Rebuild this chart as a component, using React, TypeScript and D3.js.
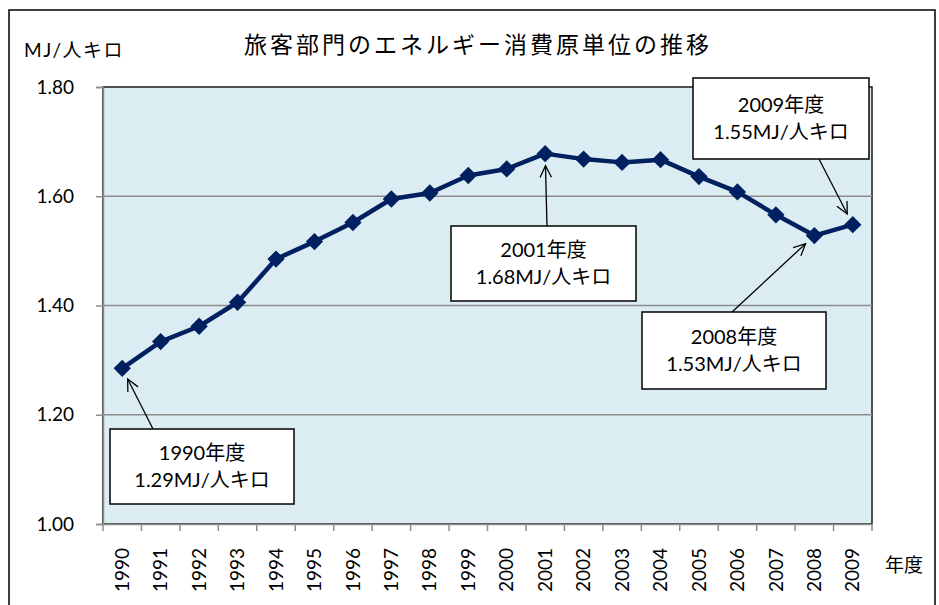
import React from "react";
import * as d3 from "d3";

const years = [
  1990, 1991, 1992, 1993, 1994, 1995, 1996, 1997, 1998, 1999,
  2000, 2001, 2002, 2003, 2004, 2005, 2006, 2007, 2008, 2009,
];
const intensity = [
  1.285, 1.334, 1.362, 1.406, 1.485, 1.517, 1.552, 1.595, 1.606, 1.638,
  1.65, 1.678, 1.668, 1.662, 1.667, 1.636, 1.608, 1.566, 1.528, 1.548,
];
const yTicks = [1.0, 1.2, 1.4, 1.6, 1.8];

const calloutYears = [1990, 2001, 2008, 2009];
const calloutValues = ["1.29MJ/人キロ", "1.68MJ/人キロ", "1.53MJ/人キロ", "1.55MJ/人キロ"];

// box x, y, w, h and where the arrow leaves the box
const calloutBoxes = [
  { x: 110, y: 429, w: 184, h: 75, ax: 153, ay: 429 },
  { x: 451, y: 226, w: 185, h: 75, ax: 547, ay: 226 },
  { x: 642, y: 312, w: 184, h: 77, ax: 732, ay: 312 },
  { x: 693, y: 78, w: 176, h: 81, ax: 819, ay: 159 },
];

const W = 939;
const H = 605;
const plot = { left: 103, right: 872, top: 87, bottom: 524 };
const FONT = "Lato, 'Noto Sans CJK JP', sans-serif";

export default function App() {
  const gRef = React.useRef<SVGGElement>(null);

  const x = d3
    .scaleBand<number>()
    .domain(years)
    .range([plot.left, plot.right])
    .padding(0);
  const y = d3.scaleLinear().domain([1.0, 1.8]).range([plot.bottom, plot.top]);
  const cx = (yr: number) => (x(yr) as number) + x.bandwidth() / 2;

  React.useEffect(() => {
    const g = d3.select(gRef.current);
    g.selectAll("*").remove();

    // y axis
    const yAxis = d3
      .axisLeft(y)
      .tickValues(yTicks)
      .tickSize(7)
      .tickPadding(22)
      .tickFormat(d3.format(".2f"));
    const ya = g
      .append("g")
      .attr("transform", `translate(${plot.left},0)`)
      .call(yAxis);
    ya.select(".domain").attr("stroke", "#8c8c8c").attr("stroke-width", 1.5);
    ya.selectAll(".tick line").attr("stroke", "#8c8c8c").attr("stroke-width", 1.5);
    ya.selectAll(".tick text")
      .attr("font-family", FONT)
      .attr("font-size", 19)
      .attr("fill", "#000");

    // x axis: ticks on category boundaries
    const xAxis = d3.axisBottom(x).tickSize(0).tickPadding(0);
    const xa = g
      .append("g")
      .attr("transform", `translate(0,${plot.bottom})`)
      .call(xAxis);
    xa.select(".domain").attr("stroke", "#8c8c8c").attr("stroke-width", 1.5);
    xa.selectAll(".tick line").remove();
    xa.selectAll(".tick text")
      .attr("font-family", FONT)
      .attr("font-size", 19)
      .attr("fill", "#000")
      .attr("text-anchor", "end")
      .attr("dy", "0.35em")
      .attr("transform", "translate(0,24) rotate(-90)")
      .attr("x", 0)
      .attr("y", 0);
    const bounds = years.map((yr) => x(yr) as number).concat([plot.right]);
    xa.selectAll(".bound")
      .data(bounds)
      .join("line")
      .attr("class", "bound")
      .attr("x1", (d) => d)
      .attr("x2", (d) => d)
      .attr("y1", 0)
      .attr("y2", 7)
      .attr("stroke", "#8c8c8c")
      .attr("stroke-width", 1.5);
  }, []);

  const linePath = d3
    .line<number>()
    .x((_, i) => cx(years[i]))
    .y((v) => y(v))(intensity) as string;

  const diamond = d3.symbol().type(d3.symbolSquare).size(150)() as string;

  return (
    <svg
      width={W}
      height={H}
      style={{ position: "absolute", left: 0, top: 0, background: "#fff" }}
    >
      <rect x={9} y={10} width={926} height={620} fill="#fff" stroke="#000" strokeWidth={1.5} />

      <text
        x={478}
        y={53}
        textAnchor="middle"
        fontFamily={FONT}
        fontSize={23}
        letterSpacing={3}
      >
        旅客部門のエネルギー消費原単位の推移
      </text>
      <text x={24} y={57} fontFamily={FONT} fontSize={19} letterSpacing={1.5}>
        MJ/人キロ
      </text>
      <text x={885} y={572} fontFamily={FONT} fontSize={19}>
        年度
      </text>

      <rect
        x={plot.left}
        y={plot.top}
        width={plot.right - plot.left}
        height={plot.bottom - plot.top}
        fill="#dbedf3"
        stroke="#1a1a1a"
        strokeWidth={1.5}
      />
      {yTicks.slice(1, -1).map((t) => (
        <line
          key={t}
          x1={plot.left}
          x2={plot.right}
          y1={y(t)}
          y2={y(t)}
          stroke="#8c8c8c"
          strokeWidth={1.5}
        />
      ))}

      <g ref={gRef} />

      <path d={linePath} fill="none" stroke="#002060" strokeWidth={4.5} strokeLinejoin="round" />
      {intensity.map((v, i) => (
        <path
          key={years[i]}
          d={diamond}
          transform={`translate(${cx(years[i])},${y(v)}) rotate(45)`}
          fill="#002060"
        />
      ))}

      {calloutYears.map((yr, k) => {
        const b = calloutBoxes[k];
        const i = years.indexOf(yr);
        const px = cx(yr);
        const py = y(intensity[i]);
        const dx = b.ax - px;
        const dy = b.ay - py;
        const len = Math.hypot(dx, dy);
        const ux = dx / len;
        const uy = dy / len;
        const gap = 12;
        const tx = px + ux * gap;
        const ty = py + uy * gap;
        const head = 13;
        const ang = (26 * Math.PI) / 180;
        const rot = (a: number) => [
          ux * Math.cos(a) - uy * Math.sin(a),
          ux * Math.sin(a) + uy * Math.cos(a),
        ];
        const [h1x, h1y] = rot(ang);
        const [h2x, h2y] = rot(-ang);
        return (
          <g key={yr}>
            <line x1={b.ax} y1={b.ay} x2={tx} y2={ty} stroke="#000" strokeWidth={1.3} />
            <path
              d={`M${tx + h1x * head},${ty + h1y * head}L${tx},${ty}L${tx + h2x * head},${ty + h2y * head}`}
              fill="none"
              stroke="#000"
              strokeWidth={1.3}
            />
            <rect x={b.x} y={b.y} width={b.w} height={b.h} fill="#fff" stroke="#000" strokeWidth={1.5} />
            <text
              x={b.x + b.w / 2}
              y={b.y + b.h / 2 - 7}
              textAnchor="middle"
              fontFamily={FONT}
              fontSize={20}
            >
              {yr}年度
            </text>
            <text
              x={b.x + b.w / 2}
              y={b.y + b.h / 2 + 20}
              textAnchor="middle"
              fontFamily={FONT}
              fontSize={20}
            >
              {calloutValues[k]}
            </text>
          </g>
        );
      })}
    </svg>
  );
}
